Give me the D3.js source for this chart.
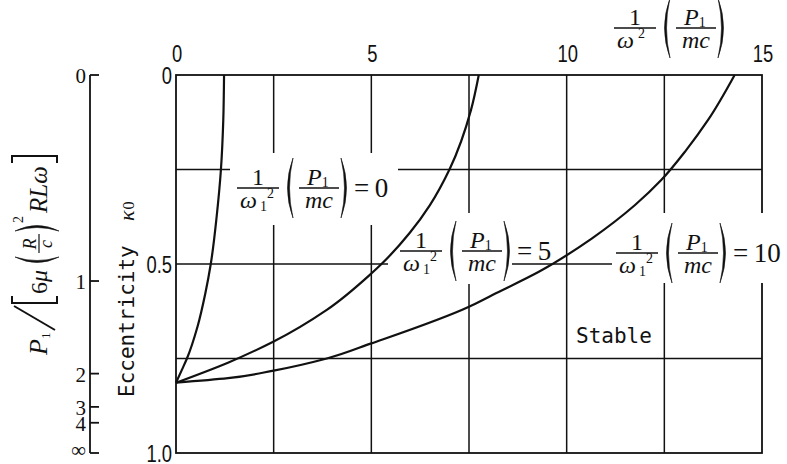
<!DOCTYPE html>
<html>
<head>
<meta charset="utf-8">
<style>
    body { margin: 0; background: #fff; }
    svg { display: block; }
    .serif { font-family: "Liberation Serif", "DejaVu Serif", serif; fill: #111; }
    .sans { font-family: "Liberation Sans", Arial, sans-serif; fill: #111; }
    .mono { font-family: "DejaVu Sans Mono", "Liberation Mono", monospace; fill: #111; }
    .it { font-style: italic; }
</style>
</head>
<body>
<svg width="787" height="464"></svg>
<script src="https://cdn.jsdelivr.net/npm/d3@7"></script>
<script>
    // top axis: 1/ω² (P1/mc)
    var xTicks = [0, 5, 10, 15];
    var xGrid = [2.5, 5, 7.5, 10, 12.5];
    // eccentricity axis
    var eccTicks = [0, 0.5, 1.0];
    var eccTickLabels = ["0", "0.5", "1.0"];
    var eccGrid = [0.25, 0.5, 0.75];
    // load axis P1/[6μ(R/c)²RLω], placed at the eccentricity it corresponds to
    var loadLabels = ["0", "1", "2", "3", "4", "∞"];
    var loadEcc = [0, 0.545, 0.79, 0.878, 0.92, 1.0];

    // stability boundaries, one per value of 1/ω1²(P1/mc)
    var boundaryValues = [0, 5, 10];
    var ecc0 = [0.814, 0.78, 0.75, 0.666, 0.578, 0.5, 0.375, 0.25, 0.12, 0];
    var x0   = [0, 0.15, 0.28, 0.55, 0.75, 0.89, 1.04, 1.15, 1.21, 1.23];
    var ecc5 = [0.814, 0.761, 0.705, 0.622, 0.525, 0.5, 0.418, 0.344, 0.25, 0.093, 0];
    var x5   = [0, 1.33, 2.5, 3.85, 5.0, 5.26, 5.98, 6.5, 7.0, 7.55, 7.75];
    var ecc10 = [0.814, 0.802, 0.782, 0.75, 0.71, 0.613, 0.582, 0.52, 0.432, 0.344, 0.278, 0.2, 0.119, 0];
    var x10   = [0, 1.33, 2.5, 3.86, 5.0, 7.5, 8.1, 9.3, 10.65, 11.75, 12.42, 13.05, 13.62, 14.3];

    var svg = d3.select('svg');
    var x = d3.scaleLinear().domain([0, 15]).range([176, 762]);
    var y = d3.scaleLinear().domain([0, 1]).range([75, 453]);

    // frame + grid
    svg.append('rect')
        .attr('x', x(0)).attr('y', y(0))
        .attr('width', x(15) - x(0)).attr('height', y(1) - y(0))
        .attr('fill', 'none').attr('stroke', '#111').attr('stroke-width', 1.8);

    svg.selectAll('.vgrid').data(xGrid).enter().append('line')
        .attr('class', 'vgrid')
        .attr('x1', d => x(d)).attr('x2', d => x(d))
        .attr('y1', y(0)).attr('y2', y(1))
        .attr('stroke', '#111').attr('stroke-width', 1.5);

    svg.selectAll('.hgrid').data(eccGrid).enter().append('line')
        .attr('class', 'hgrid')
        .attr('y1', d => y(d)).attr('y2', d => y(d))
        .attr('x1', x(0)).attr('x2', x(15))
        .attr('stroke', '#111').attr('stroke-width', 1.5);

    // blank the grid behind the curve labels
    var boxes = [[230, 153, 168, 72], [388, 213, 124, 71], [612, 213, 160, 70]];
    svg.selectAll('.blank').data(boxes).enter().append('rect')
        .attr('class', 'blank')
        .attr('x', d => d[0]).attr('y', d => d[1])
        .attr('width', d => d[2]).attr('height', d => d[3])
        .attr('fill', '#fff');

    // curves
    var series = boundaryValues.map(function(v, i) {
        var xs = [x0, x5, x10][i], es = [ecc0, ecc5, ecc10][i];
        return xs.map(function(d, j) { return [d, es[j]]; });
    });
    var line = d3.line()
        .x(d => x(d[0])).y(d => y(d[1]))
        .curve(d3.curveMonotoneY);
    svg.selectAll('.curve').data(series).enter().append('path')
        .attr('class', 'curve')
        .attr('d', line)
        .attr('fill', 'none').attr('stroke', '#111').attr('stroke-width', 2.2);

    // tick labels
    function narrow(sel, anchor) {
        sel.attr('class', 'sans').attr('font-size', 23).attr('text-anchor', anchor);
    }
    svg.selectAll('.xt').data(xTicks).enter().append('text')
        .call(narrow, 'middle')
        .attr('transform', d => 'translate(' + (x(d) + 1) + ',62) scale(0.8,1)')
        .text(d => d);

    svg.selectAll('.et').data(eccTicks).enter().append('text')
        .call(narrow, 'end')
        .attr('transform', d => 'translate(172,' + (y(d) + 9) + ') scale(0.8,1)')
        .text((d, i) => eccTickLabels[i]);

    // load axis
    var lx = 90;
    svg.append('line')
        .attr('x1', lx).attr('x2', lx).attr('y1', y(0)).attr('y2', y(1))
        .attr('stroke', '#111').attr('stroke-width', 1.8);
    svg.selectAll('.ltick').data(loadEcc).enter().append('line')
        .attr('x1', lx).attr('x2', lx + 9)
        .attr('y1', d => y(d)).attr('y2', d => y(d))
        .attr('stroke', '#111').attr('stroke-width', 1.8);
    svg.selectAll('.llab').data(loadEcc).enter().append('text')
        .attr('class', 'serif').attr('font-size', 21).attr('text-anchor', 'end')
        .attr('x', 86).attr('y', d => y(d) + (d === 1 ? 4 : 8))
        .text((d, i) => loadLabels[i]);

    // helpers for the formula labels
    function paren(g, cx, cy, h, left) {
        var s = left ? 1 : -1;
        g.append('path')
            .attr('d', 'M' + (cx + 4 * s) + ',' + (cy - h) +
                ' Q' + (cx - 7 * s) + ',' + cy + ' ' + (cx + 4 * s) + ',' + (cy + h) +
                ' Q' + (cx - 3 * s) + ',' + cy + ' ' + (cx + 4 * s) + ',' + (cy - h) + 'Z')
            .attr('fill', '#111').attr('stroke', '#111').attr('stroke-width', 0.6);
    }

    function fracLabel(px, bar, value, sub) {
        var g = svg.append('g').attr('class', 'serif')
            .attr('transform', 'translate(' + px + ',' + bar + ')');
        g.append('text').attr('x', 21).attr('y', -3).attr('text-anchor', 'middle')
            .attr('font-size', 24).text('1');
        g.append('line').attr('x1', 0).attr('x2', 42).attr('y1', 0).attr('y2', 0)
            .attr('stroke', '#111').attr('stroke-width', 1.3);
        var den = g.append('text').attr('x', 3).attr('y', 20).attr('font-size', 24);
        den.append('tspan').attr('class', 'it').text('ω');
        if (sub) {
            den.append('tspan').attr('font-size', 14).attr('dx', 3).attr('dy', 3).text('1');
            den.append('tspan').attr('font-size', 14).attr('dy', -13).text('2');
        } else {
            den.append('tspan').attr('font-size', 14).attr('dx', 4).attr('dy', -10).text('2');
        }
        paren(g, 52, 0, 30, true);
        var num = g.append('text').attr('x', 70).attr('y', -3).attr('font-size', 24);
        num.append('tspan').attr('class', 'it').text('P');
        num.append('tspan').attr('font-size', 14).attr('dy', 2).text('1');
        g.append('line').attr('x1', 62).attr('x2', 102).attr('y1', 0).attr('y2', 0)
            .attr('stroke', '#111').attr('stroke-width', 1.3);
        g.append('text').attr('class', 'serif it').attr('x', 82).attr('y', 20)
            .attr('text-anchor', 'middle').attr('font-size', 24).text('mc');
        paren(g, 108, 0, 30, false);
        if (value !== null) {
            g.append('text').attr('x', 117).attr('y', 9).attr('font-size', 27)
                .text('=' + '\u2009' + value);
        }
    }

    fracLabel(237, 188, boundaryValues[0], true);
    fracLabel(400, 251, boundaryValues[1], true);
    fracLabel(616, 253, boundaryValues[2], true);
    fracLabel(614, 28, null, false);

    // rotated load-axis title
    var t = svg.append('g').attr('class', 'serif').attr('transform', 'translate(47,355) rotate(-90)');
    var p = t.append('text').attr('x', 0).attr('y', 0).attr('font-size', 26);
    p.append('tspan').attr('class', 'it').text('P');
    p.append('tspan').attr('font-size', 13).attr('dy', 3).text('1');
    t.append('line').attr('x1', 25).attr('y1', 8).attr('x2', 49).attr('y2', -33)
        .attr('stroke', '#111').attr('stroke-width', 2);
    t.append('path').attr('d', 'M59,-35 L52,-35 L52,10 L59,10')
        .attr('fill', 'none').attr('stroke', '#111').attr('stroke-width', 2);
    var sm = t.append('text').attr('x', 61).attr('y', 0).attr('font-size', 24);
    sm.append('tspan').text('6');
    sm.append('tspan').attr('class', 'it').text('μ');
    paren(t, 94, -10, 22, true);
    t.append('text').attr('class', 'serif it').attr('x', 111).attr('y', -11)
        .attr('text-anchor', 'middle').attr('font-size', 18).text('R');
    t.append('line').attr('x1', 102).attr('x2', 121).attr('y1', -8).attr('y2', -8)
        .attr('stroke', '#111').attr('stroke-width', 1.2);
    t.append('text').attr('class', 'serif it').attr('x', 111).attr('y', 5)
        .attr('text-anchor', 'middle').attr('font-size', 18).text('c');
    paren(t, 128, -10, 22, false);
    t.append('text').attr('x', 132).attr('y', -24).attr('font-size', 14).text('2');
    t.append('text').attr('class', 'serif it').attr('x', 142).attr('y', 0)
        .attr('font-size', 25).text('RLω');
    t.append('path').attr('d', 'M192,-35 L199,-35 L199,10 L192,10')
        .attr('fill', 'none').attr('stroke', '#111').attr('stroke-width', 2);

    // eccentricity title
    var e = svg.append('g').attr('transform', 'translate(134,397) rotate(-90)');
    e.append('text').attr('class', 'mono').attr('font-size', 21).text('Eccentricity');
    var k = e.append('text').attr('class', 'serif').attr('x', 176).attr('y', 0).attr('font-size', 22);
    k.append('tspan').attr('class', 'it').text('κ');
    k.append('tspan').attr('font-size', 16).attr('dx', 1).text('0');

    svg.append('text').attr('class', 'mono').attr('font-size', 21)
        .attr('x', 576).attr('y', 343).text('Stable');
</script>
</body>
</html>
